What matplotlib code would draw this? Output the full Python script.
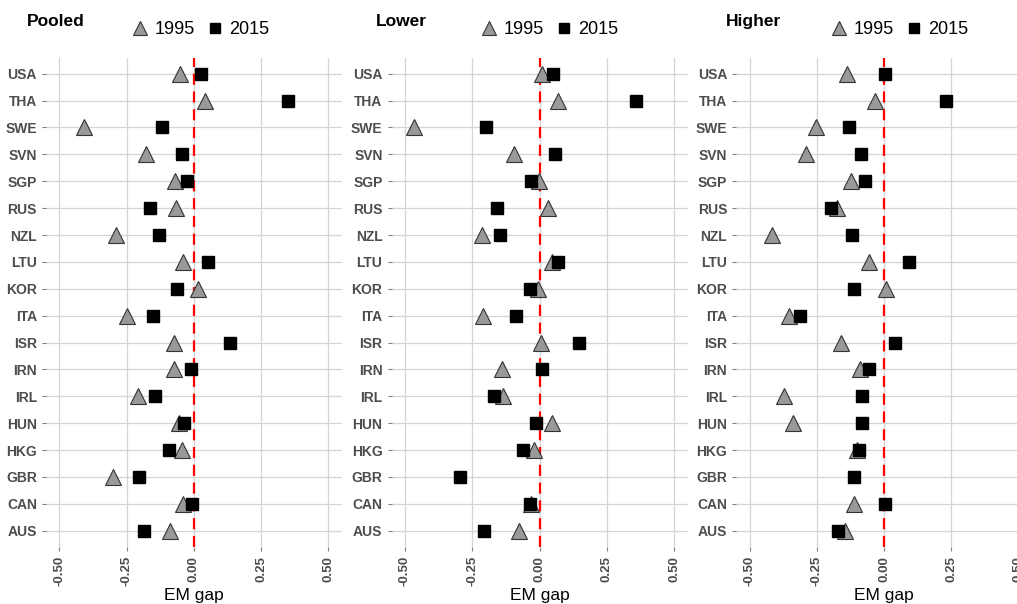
import numpy as np
import matplotlib
matplotlib.use("Agg")
import matplotlib.pyplot as plt
from matplotlib.lines import Line2D

plt.rcParams["font.family"] = ["Liberation Sans", "DejaVu Sans"]

countries = ["USA", "THA", "SWE", "SVN", "SGP", "RUS", "NZL", "LTU", "KOR",
             "ITA", "ISR", "IRN", "IRL", "HUN", "HKG", "GBR", "CAN", "AUS"]

pooled_1995 = [-0.052, 0.042, -0.409, -0.178, -0.069, -0.065, -0.290, -0.039, 0.014,
               -0.250, -0.075, -0.072, -0.206, -0.056, -0.042, -0.300, -0.039, -0.088]
pooled_2015 = [0.026, 0.351, -0.118, -0.043, -0.027, -0.162, -0.130, 0.052, -0.063,
               -0.150, 0.135, -0.012, -0.146, -0.037, -0.094, -0.204, -0.005, -0.184]

lower_1995 = [0.010, 0.068, -0.467, -0.095, -0.001, 0.030, -0.212, 0.048, -0.007,
              -0.209, 0.007, -0.138, -0.136, 0.045, -0.019, np.nan, -0.031, -0.078]
lower_2015 = [0.051, 0.358, -0.197, 0.057, -0.033, -0.159, -0.145, 0.068, -0.035,
              -0.086, 0.147, 0.011, -0.169, -0.014, -0.062, -0.294, -0.036, -0.207]

higher_1995 = [-0.139, -0.036, -0.252, -0.292, -0.123, -0.175, -0.418, -0.057, 0.005,
               -0.352, -0.162, -0.090, -0.373, -0.338, -0.100, np.nan, -0.113, -0.145]
higher_2015 = [0.002, 0.230, -0.129, -0.088, -0.072, -0.197, -0.120, 0.093, -0.114,
               -0.312, 0.041, -0.056, -0.081, -0.084, -0.092, -0.114, 0.004, -0.171]

panels = [("Pooled", pooled_1995, pooled_2015),
          ("Lower", lower_1995, lower_2015),
          ("Higher", higher_1995, higher_2015)]

xticks = [-0.50, -0.25, 0.00, 0.25, 0.50]

W, H = 1017, 604
fig = plt.figure(figsize=(W / 100, H / 100), dpi=100)

grey_txt = "#4D4D4D"
grid_col = "#D4D4D4"
tri_fill = "#999999"

# panel geometry in pixels
lefts = [45.8, 391.5, 736.2]
panel_w = 296.0
top_px, bot_px = 57.6, 546.8
title_x = [27, 376, 726]
legend_cx = [200, 549, 899]

y = np.arange(len(countries))[::-1]

tri_kw = dict(linestyle="none", marker="^", markersize=11.5,
              markerfacecolor=tri_fill, markeredgecolor="#333333", markeredgewidth=0.8)
sq_kw = dict(linestyle="none", marker="s", markersize=8,
             markerfacecolor="black", markeredgecolor="black")

for i, (name, v95, v15) in enumerate(panels):
    ax = fig.add_axes([lefts[i] / W, 1 - bot_px / H, panel_w / W, (bot_px - top_px) / H])
    ax.set_xlim(-0.55, 0.55)
    ax.set_ylim(-0.6, len(countries) - 0.4)
    for sp in ax.spines.values():
        sp.set_visible(False)
    ax.set_xticks(xticks)
    ax.set_xticklabels(["%.2f" % t for t in xticks], rotation=90)
    ax.set_yticks(y)
    ax.set_yticklabels(countries)
    ax.tick_params(axis="both", colors="#7F7F7F", length=3, width=0.8,
                   labelcolor=grey_txt)
    ax.tick_params(axis="y", labelsize=10)
    ax.tick_params(axis="x", labelsize=9.5)
    for lab in ax.get_xticklabels() + ax.get_yticklabels():
        lab.set_fontweight("bold")
    ax.grid(True, color=grid_col, linewidth=0.9)
    ax.set_axisbelow(True)
    ax.axvline(0, color="#FF0000", linestyle=(0, (5, 3)), linewidth=1.6, zorder=2)
    ax.plot(v95, y, zorder=3, **tri_kw)
    ax.plot(v15, y, zorder=4, **sq_kw)

    fig.text((lefts[i] + panel_w / 2) / W, 1 - 600 / H, "EM gap", fontsize=12.5,
             ha="center", va="baseline")

    # legend keys are drawn a little smaller than the points
    handles = [Line2D([], [], **{**tri_kw, "markersize": 10}),
               Line2D([], [], **{**sq_kw, "markersize": 6.5})]
    fig.legend(handles, ["1995", "2015"], ncol=2, frameon=False, fontsize=13,
               loc="center", bbox_to_anchor=(legend_cx[i] / W, 1 - 30 / H),
               handletextpad=0.3, columnspacing=0.6, handlelength=1.0)
    fig.text(title_x[i] / W, 1 - 26 / H, name, fontsize=12.5, fontweight="bold",
             ha="left", va="baseline")

fig.savefig("out.png", dpi=100, facecolor="white")
